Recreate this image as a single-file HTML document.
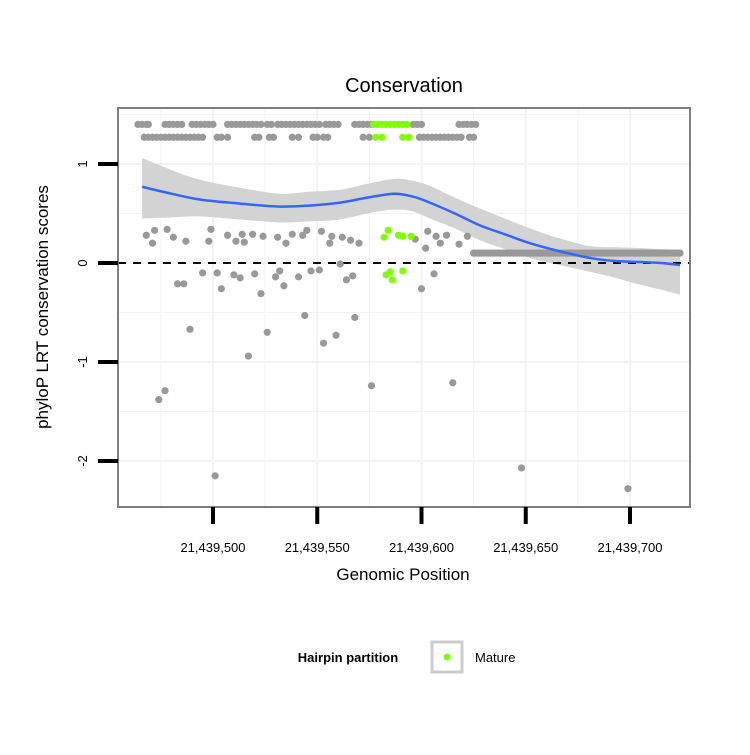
<!DOCTYPE html>
<html><head><meta charset="utf-8"><style>
body{margin:0;background:#fff;font-family:"Liberation Sans",sans-serif}
svg text{font-family:"Liberation Sans",sans-serif}
</style></head><body>
<svg id="c" width="750" height="750" xmlns="http://www.w3.org/2000/svg">
<text x="404" y="92" font-size="20" text-anchor="middle">Conservation</text>
<text x="403" y="580" font-size="17" text-anchor="middle">Genomic Position</text>
<text transform="translate(48,307) rotate(-90)" font-size="17" text-anchor="middle">phyloP LRT conservation scores</text>
<g id="legend">
<text x="348" y="662" font-size="13" font-weight="bold" text-anchor="middle">Hairpin partition</text>
<rect x="432" y="642" width="30" height="30" fill="#fff" stroke="#ccc" stroke-width="3"/>
<circle cx="447" cy="657" r="3.5" fill="#7fff00"/>
<text x="475" y="662" font-size="13">Mature</text>
</g>
</svg>
<script>
// Data: positions are offsets from 21,439,000
const row1Pos=[464,466,468,469,477,479,481,483,485,490,492,494,496,498,500,507,509,511,513,515,517,519,521,523,526,528,531,533,535,537,539,541,543,545,547,549,551,554,556,558,560,568,570,572,574,576,596,598,600,618,620,622,624,626];
const row2Pos=[467,469,471,473,475,477,479,481,483,485,487,489,491,493,495,502,504,507,520,522,527,529,538,541,548,550,553,555,572,575,599,601,603,605,607,609,611,613,615,617,619,623,625];
const matureRow1=[577,579,581,583,585,587,589,591,593];
const matureRow2=[578,581,591,594];
const row1Val=1.40, row2Val=1.27;
const otherPos=[468,472,471,478,481,487,499,498,507,511,514,515,519,524,531,535,538,543,545,552,557,556,562,566,570,597,603,602,607,609,612,618,622,
474,477,483,486,489,495,502,504,510,513,517,520,501,523,526,530,532,534,541,544,547,551,553,559,561,564,567,568,576,600,606,615,648,699];
const otherVal=[.28,.33,.20,.34,.26,.22,.34,.22,.28,.22,.29,.21,.29,.27,.26,.20,.29,.28,.33,.32,.27,.20,.26,.23,.20,.24,.32,.15,.27,.20,.28,.19,.27,
-1.38,-1.29,-.21,-.21,-.67,-.10,-.10,-.26,-.12,-.15,-.94,-.11,-2.15,-.31,-.70,-.14,-.08,-.23,-.14,-.53,-.08,-.07,-.81,-.73,-.01,-.17,-.13,-.55,-1.24,-.26,-.11,-1.21,-2.07,-2.28];
const maturePos=[582,584,589,591,595,583,585,586,591];
const matureVal=[.26,.33,.28,.27,.27,-.12,-.09,-.17,-.08];
const flatPos=[625,626,627,628,629,630,631,632,633,634,635,636,637,638,639,640,641,642,643,644,645,646,647,648,649,650,651,652,653,654,655,656,657,658,659,660,661,662,663,664,665,666,667,668,669,670,671,672,673,674,675,676,677,678,679,680,681,682,683,684,685,686,687,688,689,690,691,692,693,694,695,696,697,698,699,700,701,702,703,704,705,706,707,708,709,710,711,712,713,714,715,716,717,718,719,720,721,722,723,724];
const flatVal=0.10;
const smoothX=[466,480,494,513,532,546,561,574,587,596,604,616,628,640,652,666,681,693,705,715,724];
const smoothY=[.77,.70,.64,.60,.57,.58,.61,.66,.70,.67,.61,.50,.38,.29,.20,.12,.05,.02,.01,.00,-.02];
const bandUp=[1.06,.94,.84,.76,.70,.72,.74,.80,.85,.83,.78,.66,.55,.45,.35,.25,.17,.16,.15,.14,.13];
const bandLo=[.45,.46,.47,.44,.41,.42,.44,.50,.54,.52,.45,.35,.23,.14,.05,-.02,-.09,-.15,-.22,-.27,-.32];
const xTicks=[500,550,600,650,700];
const xTickLabels=["21,439,500","21,439,550","21,439,600","21,439,650","21,439,700"];
const yTicks=[-2,-1,0,1];

const NS="http://www.w3.org/2000/svg";
const svg=document.getElementById('c');
const X=v=>213+(v-500)*2.085;
const Y=v=>263-v*99;
function mk(tag,attrs,parent){const e=document.createElementNS(NS,tag);for(const k in attrs)e.setAttribute(k,attrs[k]);(parent||svg).appendChild(e);return e;}
function curve(P,start){ // catmull-rom
  let s=start?('M'+P[0][0]+','+P[0][1]):('L'+P[0][0]+','+P[0][1]);
  for(let i=0;i<P.length-1;i++){const p0=P[Math.max(i-1,0)],p1=P[i],p2=P[i+1],p3=P[Math.min(i+2,P.length-1)];
    s+='C'+(p1[0]+(p2[0]-p0[0])/6)+','+(p1[1]+(p2[1]-p0[1])/6)+' '+(p2[0]-(p3[0]-p1[0])/6)+','+(p2[1]-(p3[1]-p1[1])/6)+' '+p2[0]+','+p2[1];}
  return s;}
const L=118,R=690,T=108,B=507;
const panel=mk('rect',{x:L,y:T,width:R-L,height:B-T,fill:'#fff'});


const grid=mk('g',{stroke:'#f3f3f3'});


[-2.5,-1.5,-0.5,0.5,1.5,-2,-1,0,1].forEach(v=>{const y=Y(v);if(y>T&&y<B)mk('line',{x1:L,x2:R,y1:y,y2:y,'stroke-width':Number.isInteger(v)?2:1},grid);});
[475,525,575,625,675,500,550,600,650,700].forEach(v=>{const x=X(v);mk('line',{x1:x,x2:x,y1:T,y2:B,'stroke-width':v%50===0?2:1},grid);});
const up=smoothX.map((x,i)=>[X(x),Y(bandUp[i])]);
const lo=smoothX.map((x,i)=>[X(x),Y(bandLo[i])]).reverse();
const band=mk('path',{d:curve(up,true)+curve(lo,false)+'Z',fill:'#d3d3d3'});


const zl=mk('line',{x1:L,x2:R,y1:Y(0),y2:Y(0),stroke:'#000','stroke-width':2,'stroke-dasharray':'8,7'});


const pts=mk('g',{});


function dot(x,v,col,name){const c=mk('circle',{cx:X(x),cy:Y(v),r:3.6,fill:col},pts);

}
flatPos.forEach(p=>dot(p,flatVal,'#999','point-other'));
row1Pos.forEach(p=>dot(p,row1Val,'#999','point-other'));
row2Pos.forEach(p=>dot(p,row2Val,'#999','point-other'));
otherPos.forEach((p,i)=>dot(p,otherVal[i],'#999','point-other'));
matureRow1.forEach(p=>dot(p,row1Val,'#7fff00','point-mature'));
matureRow2.forEach(p=>dot(p,row2Val,'#7fff00','point-mature'));
maturePos.forEach((p,i)=>dot(p,matureVal[i],'#7fff00','point-mature'));
const sl=mk('path',{d:curve(smoothX.map((x,i)=>[X(x),Y(smoothY[i])]),true),fill:'none',stroke:'#3366ff','stroke-width':2.5});


const br=mk('rect',{x:L,y:T,width:R-L,height:B-T,fill:'none',stroke:'#7f7f7f','stroke-width':2});


xTicks.forEach((v,i)=>{const x=X(v);
const t=mk('line',{x1:x,x2:x,y1:B,y2:B+17,stroke:'#000','stroke-width':4});


const tx=mk('text',{x:x,y:552,'font-size':13,'text-anchor':'middle'});tx.textContent=xTickLabels[i];

});
yTicks.forEach(v=>{const y=Y(v);
const t=mk('line',{x1:98,x2:L,y1:y,y2:y,stroke:'#000','stroke-width':4});


const tx=mk('text',{transform:`translate(87,${y}) rotate(-90)`,'font-size':13,'text-anchor':'middle'});tx.textContent=String(v);

});
svg.appendChild(document.getElementById('legend'));
</script>
</body></html>
